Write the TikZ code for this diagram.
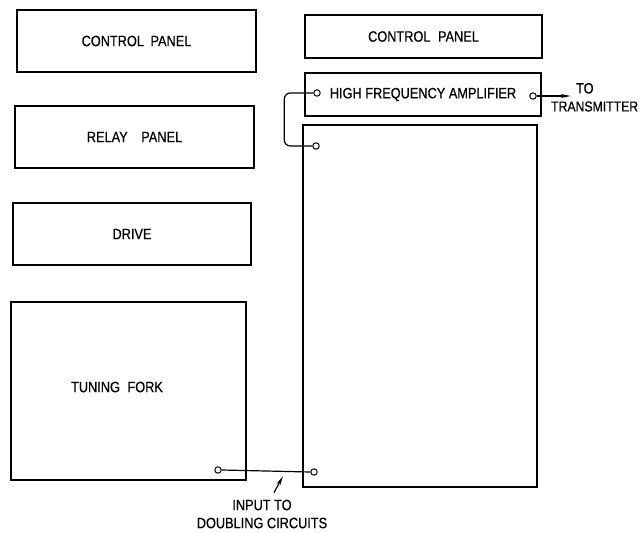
\documentclass[tikz,border=0pt]{standalone}
\usepackage{fontspec}
\setmainfont[FakeStretch=0.85,FakeBold=0.6]{Liberation Sans}
\usetikzlibrary{arrows.meta,positioning,calc}

\begin{document}
\begin{tikzpicture}[
    x=0.5pt, y=-0.5pt,
    every node/.style={font=\fontsize{7.5}{9}\selectfont},
    panel/.style={
        draw, rectangle,
        line width=0.6pt,
        align=center,
        inner sep=2pt
    },
    terminal/.style={
        draw, circle, fill=white,
        line width=0.5pt,
        minimum size=3.2pt,
        inner sep=0pt
    },
    wire/.style={line width=0.6pt},
    arrow/.style={-{Stealth[length=5pt,width=2pt]}, line width=0.6pt}
]
\useasboundingbox (0,0) rectangle (641,533);

%% ── Left rack ─────────────────────────────────────────
\node[panel, minimum width=119.5pt, minimum height=31pt] (cpleft)
    at (136.5,41) {CONTROL\hspace{1.5pt} PANEL};
\node[panel, minimum width=119.5pt, minimum height=31pt] (relay)
    at (134.5,137) {RELAY\hspace{5pt} PANEL};
\node[panel, minimum width=119pt, minimum height=31pt] (drive)
    at (132,234) {DRIVE};
\node[panel, minimum width=117.5pt, minimum height=89pt] (fork)
    at (128.5,391) {};
\node at (117,387) (forklbl) {TUNING\hspace{2pt} FORK};

%% ── Right rack ────────────────────────────────────────
\node[panel, minimum width=118.5pt, minimum height=21.5pt] (cpright)
    at (423.5,36.5) {CONTROL\hspace{2pt} PANEL};
\node[panel, minimum width=118pt, minimum height=21.5pt] (hfa)
    at (423,94.5) {HIGH FREQUENCY AMPLIFIER};
\node[panel, minimum width=117pt, minimum height=181pt] (doubler)
    at (420,306) {};

%% ── Terminals ─────────────────────────────────────────
\node[terminal] (hfain)   at (317,93)  {};
\node[terminal] (hfaout)  at (533,96)  {};
\node[terminal] (dblin)   at (316,146) {};
\node[terminal] (dblbot)  at (314,472) {};
\node[terminal] (forkout) at (218,470) {};

%% ── Link HF amplifier to doubler ──────────────────────
\draw[wire, rounded corners=3pt] (hfain.west) -- ++(-29,0) |- (dblin.west);

%% ── Output to transmitter ─────────────────────────────
\draw[arrow] (hfaout.east) -- ++(34,0) coordinate (txend);
\node[above right=0pt and 1.5pt of txend, inner sep=1pt] (tolbl) {TO};
\node[below right=2pt and -10.5pt of txend, inner sep=0.5pt,
      font=\fontsize{7.2}{9}\selectfont] (txlbl) {TRANSMITTER};

%% ── Fork output to doubling circuits ──────────────────
\draw[wire] (forkout.east) -- (dblbot.west);
\coordinate (tap) at (283,476);
\node[align=center] (inputlbl) at (262,514)
    {INPUT TO\\DOUBLING CIRCUITS};
\draw[arrow] ([xshift=6pt]inputlbl.north) -- (tap);

\end{tikzpicture}
\end{document}
